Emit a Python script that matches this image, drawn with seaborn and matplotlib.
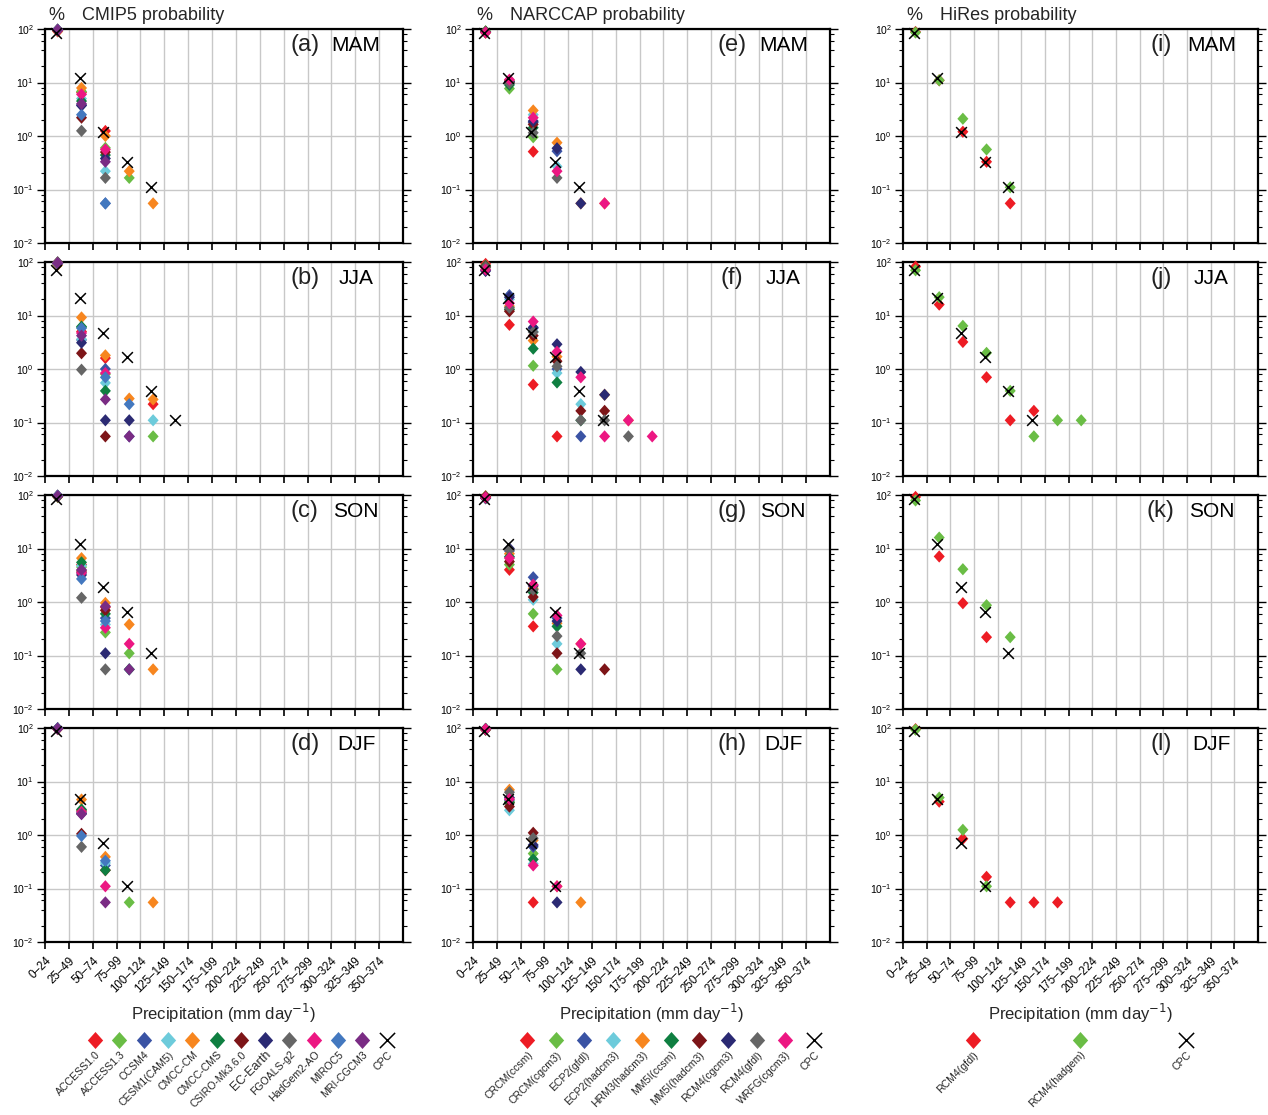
import numpy as np
import pandas as pd
import matplotlib
matplotlib.use("Agg")
import matplotlib.pyplot as plt
import seaborn as sns
from matplotlib.path import Path
from matplotlib.ticker import LogLocator, NullFormatter

N = np.nan

# ---------------- categories ----------------
bins = ['0–24', '25–49', '50–74', '75–99', '100–124', '125–149', '150–174',
        '175–199', '200–224', '225–249', '250–274', '275–299', '300–324',
        '325–349', '350–374']
seasons = ['MAM', 'JJA', 'SON', 'DJF']

cmip5_models = ['ACCESS1.0', 'ACCESS1.3', 'CCSM4', 'CESM1(CAM5)', 'CMCC-CM', 'CMCC-CMS',
                'CSIRO-Mk3.6.0', 'EC-Earth', 'FGOALS-g2', 'HadGem2-AO', 'MIROC5', 'MRI-CGCM3']
cmip5_colors = ['#ED1C24', '#6ABD45', '#3A53A4', '#6DCBDB', '#F7861F', '#0F7F41',
                '#7D1518', '#2B2A73', '#666666', '#EC1782', '#4378BF', '#7A2C84']

narccap_models = ['CRCM(ccsm)', 'CRCM(cgcm3)', 'ECP2(gfdl)', 'ECP2(hadcm3)', 'HRM3(hadcm3)',
                  'MM5I(ccsm)', 'MM5I(hadcm3)', 'RCM4(cgcm3)', 'RCM4(gfdl)', 'WRFG(cgcm3)']
narccap_colors = ['#ED1C24', '#6ABD45', '#3A53A4', '#6DCBDB', '#F7861F', '#0F7F41',
                  '#7D1518', '#2B2A73', '#666666', '#EC1782']

hires_models = ['RCM4(gfdl)', 'RCM4(hadgem)']
hires_colors = ['#ED1C24', '#6ABD45']

# ---------------- observations (CPC), % per bin ----------------
cpc_mam = [86, 12.2, 1.2, 0.33, 0.11]
cpc_jja = [71, 21.6, 4.7, 1.7, 0.39, 0.11]
cpc_son = [85, 12, 1.9, 0.65, 0.11]
cpc_djf = [88, 4.7, 0.72, 0.11]

# ---------------- CMIP5 (rows follow cmip5_models) ----------------
cmip5_mam = [
    [92, 6.5, 1.24, N, N],
    [92, 6.8, 0.6, 0.165, N],
    [95, 3.8, 0.055, N, N],
    [94, 5.0, 0.22, N, N],
    [90, 7.9, 1.0, 0.22, 0.055],
    [94, 4.5, 0.44, N, N],
    [97, 2.2, 0.5, N, N],
    [95, 3.7, 0.38, N, N],
    [98, 1.25, 0.165, N, N],
    [93, 6.0, 0.56, N, N],
    [97, 2.5, 0.055, N, N],
    [96, 4.0, 0.33, N, N],
]
cmip5_jja = [
    [93, 5.0, 1.6, N, 0.22],
    [93, 6.0, 0.8, N, 0.055],
    [95, 3.5, 1.0, 0.055, N],
    [95, 3.6, 0.55, N, 0.11],
    [88, 9.2, 1.8, 0.28, 0.27],
    [93, 6.2, 0.39, N, N],
    [98, 1.97, 0.055, N, N],
    [96, 3.1, 0.11, 0.11, N],
    [99, 0.97, N, N, N],
    [94, 4.7, 0.84, N, N],
    [93, 5.8, 0.7, 0.22, N],
    [95, 4.2, 0.27, 0.055, N],
]
cmip5_son = [
    [94, 5.0, 0.8, N, N],
    [94, 4.5, 0.27, 0.11, N],
    [96, 3.5, 0.5, N, N],
    [95, 4.8, 0.38, 0.055, N],
    [92, 6.6, 0.96, 0.38, 0.055],
    [93, 5.5, 0.6, 0.055, N],
    [96, 3.8, 0.7, N, N],
    [96, 3.2, 0.11, N, N],
    [98, 1.2, 0.055, N, N],
    [96, 3.5, 0.33, 0.165, N],
    [97, 2.7, 0.44, N, N],
    [95, 4.0, 0.83, 0.055, N],
]
cmip5_djf = [
    [97, 2.9, 0.22, N, N],
    [97, 2.8, N, 0.055, N],
    [97, 2.6, 0.27, N, N],
    [97, 2.7, 0.3, N, N],
    [95, 4.6, 0.39, N, 0.055],
    [97, 3.0, 0.22, N, N],
    [99, 1.05, N, N, N],
    [97, 2.5, N, N, N],
    [99, 0.6, N, N, N],
    [97, 2.7, 0.11, N, N],
    [99, 0.96, 0.33, N, N],
    [97, 2.45, 0.055, N, N],
]

# ---------------- NARCCAP (rows follow narccap_models) ----------------
narccap_mam = [
    [89, 10, 0.51, N, N, N],
    [91, 7.7, 0.95, N, N, N],
    [87, 10.5, 1.8, 0.52, N, N],
    [87, 9.5, 2.5, 0.27, N, N],
    [85, 11, 3.0, 0.75, 0.055, 0.055],
    [89, 9, 1.43, N, N, N],
    [88, 10, 1.65, N, N, N],
    [87, 10.5, 1.9, 0.59, 0.055, N],
    [88, 9.8, 1.15, 0.165, N, N],
    [86, 11.3, 2.2, 0.22, N, 0.055],
]
narccap_jja = [
    [92, 6.7, 0.51, 0.055, N, N, N, N],
    [85, 13, 1.15, N, N, N, N, N],
    [70, 24, 5.8, 1.0, 0.055, N, N, N],
    [73, 20, 5.0, 0.84, 0.22, N, N, N],
    [79, 15, 3.4, 1.7, N, 0.33, 0.11, N],
    [84, 13, 2.4, 0.56, 0.11, N, N, N],
    [82, 12, 4.2, 1.4, 0.165, 0.165, N, N],
    [68, 22, 6.0, 2.9, 0.88, 0.33, N, N],
    [80, 14, 4.9, 1.12, 0.11, 0.11, 0.055, N],
    [72, 17, 7.7, 2.1, 0.7, 0.055, 0.11, 0.055],
]
narccap_son = [
    [95, 4.0, 0.35, N, N, N],
    [94, 5.0, 0.6, 0.055, N, N],
    [87, 9, 2.9, 0.5, N, N],
    [91, 7, 1.1, 0.165, N, N],
    [89, 8, 1.8, 0.4, 0.165, N],
    [91, 7, 1.5, 0.35, N, N],
    [92, 5.7, 1.24, 0.11, N, 0.055],
    [87, 10, 2.0, 0.44, 0.055, N],
    [88, 9.4, 1.7, 0.23, 0.11, N],
    [90, 6.6, 2.1, 0.56, 0.165, N],
]
narccap_djf = [
    [96, 4.0, 0.055, N, N],
    [95, 4.2, 0.45, N, N],
    [95, 4.5, 0.6, N, N],
    [97, 2.9, 0.29, N, N],
    [92, 7.0, 0.8, 0.11, 0.055],
    [96, 4.0, 0.35, N, N],
    [95, 3.4, 1.1, N, N],
    [94, 5.0, 0.65, 0.055, N],
    [93, 6.3, 0.87, N, N],
    [95, 4.7, 0.27, 0.11, N],
]

# ---------------- HiRes (rows follow hires_models) ----------------
hires_mam = [
    [88, 11, 1.2, 0.33, 0.055],
    [86, 11, 2.1, 0.56, 0.11],
]
hires_jja = [
    [82, 16, 3.2, 0.7, 0.11, 0.165, N, N],
    [70, 22, 6.4, 2.0, 0.39, 0.055, 0.11, 0.11],
]
hires_son = [
    [92, 7.1, 0.95, 0.22, N],
    [79, 16, 4.1, 0.87, 0.22],
]
hires_djf = [
    [95, 4.2, 0.85, 0.165, 0.055, 0.055, 0.055],
    [93, 5.0, 1.25, 0.11, N, N, N],
]

# ---------------- styling ----------------
sns.set_theme(style='ticks')
plt.rcParams['font.family'] = ['Liberation Sans', 'DejaVu Sans']
plt.rcParams['axes.linewidth'] = 1.5

W, H = 1268, 1115
fig = plt.figure(figsize=(W / 100, H / 100), dpi=100)
fig.patch.set_facecolor('white')

col_left = [45, 473, 903]
col_w = [358, 357, 355]
row_top = [29, 262, 495, 728]
row_h = 214

diamond = Path([(0, 1), (0.9, 0), (0, -1), (-0.9, 0), (0, 1)], closed=True)

columns = [
    ('CMIP5', cmip5_models, cmip5_colors, [cmip5_mam, cmip5_jja, cmip5_son, cmip5_djf]),
    ('NARCCAP', narccap_models, narccap_colors, [narccap_mam, narccap_jja, narccap_son, narccap_djf]),
    ('HiRes', hires_models, hires_colors, [hires_mam, hires_jja, hires_son, hires_djf]),
]
cpc_all = [cpc_mam, cpc_jja, cpc_son, cpc_djf]
letters = [['(a)', '(b)', '(c)', '(d)'], ['(e)', '(f)', '(g)', '(h)'], ['(i)', '(j)', '(k)', '(l)']]


def to_long(models, arr, offset):
    rows = []
    for m, vals in zip(models, arr):
        for i, v in enumerate(vals):
            if not np.isnan(v):
                rows.append({'model': m, 'x': i + offset, 'pct': v})
    return pd.DataFrame(rows)


for c, (cname, models, colors, panels) in enumerate(columns):
    pal = dict(zip(models, colors))
    for r in range(4):
        l = col_left[c] / W
        b = 1 - (row_top[r] + row_h) / H
        ax = fig.add_axes([l, b, col_w[c] / W, row_h / H])
        ax.set_facecolor('white')
        ax.set_axisbelow(True)

        df = to_long(models, panels[r], 0.53)
        sns.scatterplot(data=df, x='x', y='pct', hue='model', hue_order=models,
                        palette=pal, marker=diamond, s=78, linewidth=0,
                        edgecolor='none', legend=False, ax=ax, clip_on=False, zorder=3)
        cpc = pd.DataFrame({'x': np.arange(len(cpc_all[r])) + 0.45, 'pct': cpc_all[r]})
        sns.scatterplot(data=cpc, x='x', y='pct', marker='x', color='black', s=60,
                        linewidth=1.1, legend=False, ax=ax, clip_on=False, zorder=4)

        ax.set_yscale('log')
        ax.set_ylim(1e-2, 1e2)
        ax.set_xlim(0, 15)
        ax.set_xticks(range(15))
        ax.yaxis.set_major_locator(LogLocator(base=10, numticks=10))
        ax.yaxis.set_minor_locator(LogLocator(base=10, subs=[2, 4, 6, 8], numticks=10))
        ax.yaxis.set_minor_formatter(NullFormatter())
        ax.grid(True, which='major', color='#c8c8c8', lw=1)
        ax.tick_params(axis='y', which='both', left=True, right=True, direction='out',
                       labelsize=7.5, colors='black', pad=2)
        ax.tick_params(axis='y', which='major', length=6, width=1)
        ax.tick_params(axis='y', which='minor', length=3, width=0.8)
        ax.tick_params(axis='x', which='both', bottom=True, top=False, direction='out',
                       length=5, width=1.2, colors='black')
        for sp in ax.spines.values():
            sp.set_visible(True)
            sp.set_color('black')
            sp.set_linewidth(1.6)
        ax.set_xlabel('')
        ax.set_ylabel('')
        if r == 3:
            ax.set_xticklabels(bins, rotation=45, ha='right', rotation_mode='anchor',
                               fontsize=8.3)
            ax.tick_params(axis='x', pad=4)
        else:
            ax.set_xticklabels([])

        ax.text(0.726, 0.925, letters[c][r], transform=ax.transAxes, ha='center',
                va='center', fontsize=17, color='#222222')
        ax.text(0.869, 0.925, seasons[r], transform=ax.transAxes, ha='center',
                va='center', fontsize=15, color='black')

    # column header
    fig.text((col_left[c] + 3) / W, 1 - 16 / H, '%', ha='left', va='center', fontsize=13)
    fig.text((col_left[c] + 37) / W, 1 - 16 / H, f'{cname} probability', ha='left',
             va='center', fontsize=13)
    # x label
    fig.text((col_left[c] + col_w[c] / 2) / W, 1 - 1013 / H,
             'Precipitation (mm day$^{-1}$)', ha='center', va='center', fontsize=12)

# ---------------- legends ----------------
lax = fig.add_axes([0, 0, 1, 112 / H])
lax.set_xlim(0, W)
lax.set_ylim(H, H - 112)
lax.axis('off')

leg_x = [
    [95 + 24.3 * i for i in range(13)],
    [527 + 28.7 * i for i in range(11)],
    [973, 1080, 1186],
]
for c, (cname, models, colors, panels) in enumerate(columns):
    xs = leg_x[c]
    for i, (m, col) in enumerate(zip(models, colors)):
        lax.scatter([xs[i]], [1040], marker=diamond, s=150, color=col, linewidth=0)
        fs = 9.0 if m == 'EC-Earth' else 7.6
        lax.text(xs[i] + 4, 1053, m, rotation=45, rotation_mode='anchor', ha='right',
                 va='center', fontsize=fs)
    xc = xs[len(models)]
    lax.scatter([xc], [1040], marker='x', s=120, color='black', linewidth=1.1)
    lax.text(xc + 4, 1053, 'CPC', rotation=45, rotation_mode='anchor', ha='right',
             va='center', fontsize=7.6)

fig.savefig('out.png', dpi=100, facecolor='white')
